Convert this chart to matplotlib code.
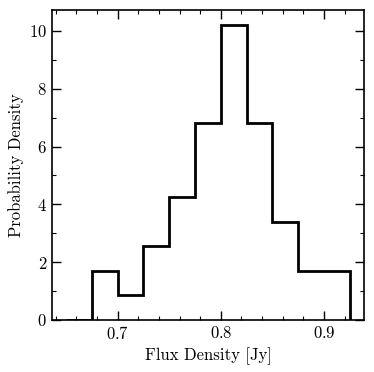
import numpy as np
import matplotlib
matplotlib.use("Agg")
import matplotlib.pyplot as plt
from matplotlib.ticker import MultipleLocator

# histogram of flux density, counts per 0.025 Jy bin (first bin empty)
bin_edges = [0.650, 0.675, 0.700, 0.725, 0.750, 0.775, 0.800, 0.825, 0.850, 0.875, 0.900, 0.925]
counts = [0, 2, 1, 3, 5, 8, 12, 8, 4, 2, 2]

plt.rcParams['font.family'] = 'cmr10'
plt.rcParams['mathtext.fontset'] = 'cm'
plt.rcParams['axes.formatter.use_mathtext'] = True

edges = np.array(bin_edges)
c = np.array(counts, dtype=float)
density = c / (c.sum() * np.diff(edges))

fig = plt.figure(figsize=(3.74, 3.72), dpi=100)
ax = fig.add_axes([0.139, 0.140, 0.834, 0.833])
ax.hist(edges[:-1], bins=edges, weights=density, histtype='step', color='k', lw=2)

ax.set_xlabel('Flux Density [Jy]', fontsize=12)
ax.set_ylabel('Probability Density', fontsize=12)
ax.xaxis.set_major_locator(MultipleLocator(0.1))
ax.xaxis.set_minor_locator(MultipleLocator(0.02))
ax.yaxis.set_major_locator(MultipleLocator(2))
ax.yaxis.set_minor_locator(MultipleLocator(1))
ax.tick_params(which='both', direction='in', top=True, right=True, labelsize=12)
ax.tick_params(which='major', length=6.3, width=1.0)
ax.tick_params(which='minor', length=3.1, width=0.8)
for spine in ax.spines.values():
    spine.set_linewidth(1.2)

fig.savefig('out.png', dpi=100)
